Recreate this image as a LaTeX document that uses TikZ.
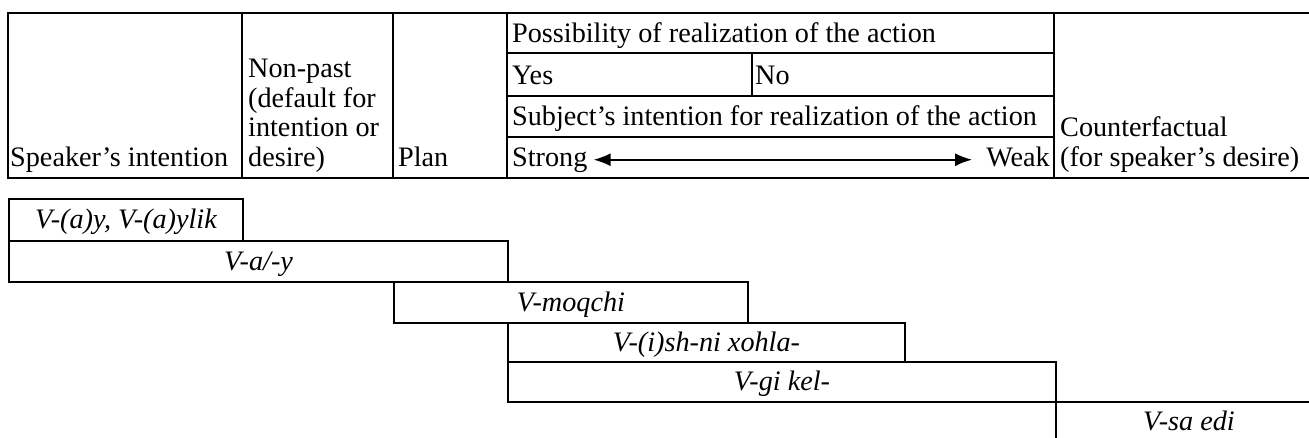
\documentclass[tikz,border=0pt]{standalone}
\usepackage{fontspec}
\setmainfont{Liberation Serif}
\usetikzlibrary{arrows.meta}

\tikzset{
  rule/.style={line width=1.9pt},
  cell/.style={anchor=base west, inner sep=0pt, font=\fontsize{28.2}{29.5}\selectfont},
  form/.style={draw, line width=1.9pt, inner sep=0pt, anchor=north west,
    text height=24pt, text depth=6pt, font=\fontsize{28.2}{29.5}\selectfont\itshape},
  both/.style={{Latex[length=17pt,width=13pt]}-{Latex[length=17pt,width=13pt]}, line width=1.9pt}
}

\begin{document}
\begin{tikzpicture}[x=1pt,y=-1pt]
    \useasboundingbox (0,0) rectangle (1309,437);

    % Header grid
    \draw[rule] (1309,13) -- (8,13) -- (8,178) -- (1309,178);
    \foreach \x in {242,393,507,1054}
        \draw[rule] (\x,13) -- (\x,178);
    \foreach \y in {53,96,137}
        \draw[rule] (507,\y) -- (1054,\y);
    \draw[rule] (752,53) -- (752,96);

    % Header texts
    \node[cell] (spk) at (10,166) {Speaker’s intention};
    \node[cell, align=left] (nonpast) at (248,166) {Non-past\\(default for\\intention or\\desire)};
    \node[cell] (plan) at (398,166) {Plan};
    \node[cell] (poss) at (512,42) {Possibility of realization of the action};
    \node[cell] (yes) at (512,84) {Yes};
    \node[cell] (no) at (755,84) {No};
    \node[cell] (subj) at (512,125) {Subject’s intention for realization of the action};
    \node[cell] (strong) at (512,166) {Strong};
    \node[cell, anchor=base east] (weak) at (1050,166) {Weak};
    \node[cell, align=left] (counter) at (1060,166) {Counterfactual\\(for speaker’s desire)};

    % Strong -- Weak
    \draw[both, shorten <=6pt, shorten >=14pt] (strong.east) -- (strong.east -| weak.west);

    % Forms
    \node[form, minimum width=234, minimum height=42] (aylik) at (8,198) {V-(a)y, V-(a)ylik};
    \node[form, minimum width=499, minimum height=41] (aay) at (8,240) {V-a/-y};
    \node[form, minimum width=354, minimum height=41] (moqchi) at (393,281) {V-moqchi};
    \node[form, minimum width=397, minimum height=39] (ishni) at (507,322) {V-(i)sh-ni xohla-};
    \node[form, minimum width=548, minimum height=40] (gikel) at (507,361) {V-gi kel-};
    \node[form, minimum width=266, minimum height=40] (saedi) at (1055,401) {V-sa edi};

\end{tikzpicture}
\end{document}
